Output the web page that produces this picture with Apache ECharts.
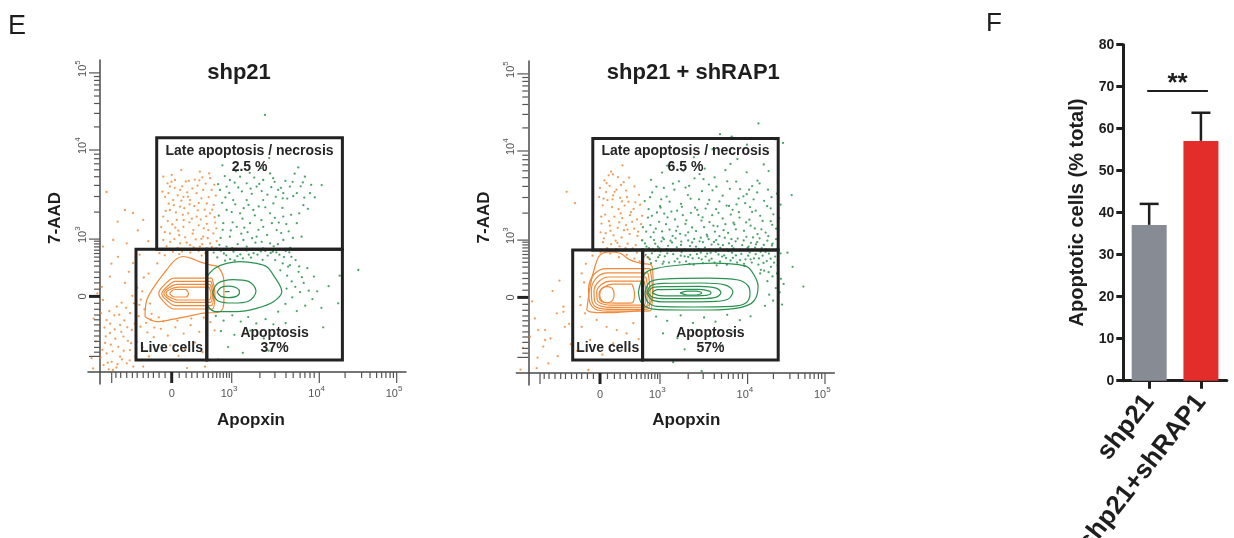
<!DOCTYPE html>
<html><head><meta charset="utf-8">
<script src="https://cdn.jsdelivr.net/npm/echarts@6/dist/echarts.min.js"></script>
<style>html,body{margin:0;padding:0;background:#fff}#c{width:1234px;height:538px}</style>
</head><body><div id="c"></div>
<script>
// ---------- Panel F data ----------
const CATS = ['shp21', 'shp21+shRAP1'];
const VALUES = [37.1, 57.1];
const SEM = [5.0, 6.7];
const BAR_COLORS = ['#878b93', '#e32d2b'];
const SIG = [[0, 69, 1]];          // [from category, y, to category]
const SIG_LABEL = '**';
const BAR_Y_TITLE = 'Apoptotic cells (% total)';

// ---------- Panel E : flow axes (display channel units) ----------
const FLOW_X_MAJOR = [23.9, 43.9, 73.1, 98.9];
const FLOW_Y_MAJOR = [25.2, 44.3, 74, 99.7];
const FLOW_LABELS = ['0', '10^3', '10^4', '10^5'];
const FLOW_X_LONG = [3.9];
const FLOW_Y_LONG = [5.2];
const FLOW_X_MINOR = [5.3,6.9,8.9,10.8,12.4,14.4,16.1,17.8,19.7,21.7,26.4,28.7,30.6,32.4,34.4,36.1,37.6,38.9,40,41.1,42.2,43.1,53.3,58.3,62,64.4,66.7,68.3,70,71.4,81.7,87.2,90,92.2,93.9,95.3,96.7,97.8];
const FLOW_Y_MINOR = [6.6,8.2,10.2,12,13.7,15.7,17.4,19,20.9,22.9,27.6,29.7,31.5,33.3,35.3,36.9,38.3,39.5,40.6,41.7,42.7,43.6,53.3,58.5,62.2,65.1,67.4,69.4,71.1,72.6,81.7,86.2,89.5,92,94,95.7,97.2,98.5];
const TITLES = ['shp21', 'shp21 + shRAP1'];
const X_NAME = 'Apopxin';
const Y_NAME = '7-AAD';

// gates [x1, y1, x2, y2]
const GATES_1 = [[18.9,40.9,80.8,78.1],[12,4,35.6,40.9],[35.6,4,80.8,40.9]];
const GATES_2 = [[21.5,41,83.3,78.2],[14.8,4.3,38.1,41],[38.1,4.3,83.3,41]];
const GATE_TEXT_1 = [['Late apoptosis / necrosis','2.5 %'],['Live cells'],['Apoptosis','37%']];
const GATE_TEXT_2 = [['Late apoptosis / necrosis','6.5 %'],['Live cells'],['Apoptosis','57%']];
const GATE_TEXT_SIDE = ['top','bottom','bottom'];

// events, plot 1
const ORANGE_1 = [[21.1,65.1],[23.9,65.7],[25,64],[23.3,61.8],[26.7,60.7],[21.7,58.4],[24.4,57.3],[27.8,58.4],[30,57.3],[32.2,59.6],[34.4,60.7],[33.3,66.8],[36.7,64.6],[37.2,60.7],[35.6,56.2],[26.7,55.1],[23.3,54],[21.1,51.8],[25.6,50.7],[29.4,52.9],[32.2,51.8],[36.7,52.9],[27.8,48.4],[31.1,47.3],[23.3,46.2],[34.4,45.1],[37.8,46.2],[26.7,42.9],[30,42.3],[33.3,41.8],[36.7,42.9],[21.1,44],
[22.5,62.9],[28.6,63.5],[30.8,61.2],[35.2,62.8],[29.1,59.9],[33.8,57.9],[22.9,56.1],[25.3,53.2],[28.1,54.6],[31.4,55.3],[34.9,54.1],[37.9,55.7],[24.1,49.2],[26.1,47.1],[29.8,49.9],[32.9,48.9],[35.6,49.4],[38.4,49.8],[22.2,41.9],[24.8,44.3],[28.4,44.9],[31.9,44.2],[34.1,42.6],[37.3,41.6],[27.1,67.3],[31.6,64.1],[20.4,48.3],[38.6,58.8],[25.9,58.9],[33.1,63.9],
[20.8,60.1],[22.8,59.6],[24.9,61.4],[27.4,61.9],[29.6,63.7],[32.5,62.1],[34.1,64.9],[36.2,58.3],[38.1,62.4],[21.9,53.7],[24.6,55.6],[27.1,57.1],[29.9,55.9],[32.6,53.9],[35.4,51.9],[37.4,54.1],[22.6,50.3],[25.1,48.1],[27.9,50.6],[30.6,51.1],[33.6,50.8],[36.1,47.3],[38.8,47.9],[23.4,43.4],[25.9,41.4],[28.9,43.1],[31.2,41.5],[33.8,44.4],[35.9,44.6],[38.9,43.6],[26.4,45.6],[30.9,46.1],[29.3,58.4],[23.8,63.4],[36.4,66.2],[32.9,56.3],[27.6,52.4],[34.6,47.9],[21.6,46.6],[38.2,51.6],
[2.2,60],[8.3,54],[11,53],[14.4,50.7],[4.4,44],[8.9,42.9],[1,41.8],[6,38.4],[11,36.3],[3.3,31.8],[8.3,29.7],[1,24],[5.6,21.8],[10,19.6],[2.2,17.3],[6.7,15.7],[10.6,14],[3.3,13],[7.8,11.8],[1.7,9.7],[6.1,8.4],[10,7.3],[2.2,6.2],[6.7,5.1],[3.9,3.4],[8.9,2.9],[11.1,1.8],[4.8,18.9],[8.1,17.2],[11.6,16.1],[1.5,14.8],[5.1,11.1],[9.3,10.4],[0.8,7.4],[4.2,6.9],[7.3,4.2],[9.9,3.9],[1.2,2.3],[5.5,1.5],[3.1,20.3],[7.2,23.1],[10.8,25.4],[12.4,28.1],[14.6,31.5],[9.6,33.4],[13.2,39.1],[16.1,43.6],[12.6,47.2],[5.9,50.1],[3.8,36.1],[0.6,28.4],[11.9,12.2],[2.9,0.9],
[-2.8,4.6],[-1.4,10.2],[-2.1,17.8],[0.3,19.6],[1.9,11.9],[3.6,9.1],[4.9,14.2],[6.4,19.1],[8.7,21.4],[9.1,14.9],[10.4,9.6],[11.8,5.2],[2.6,3.1],[5.8,2.6],[7.9,7.1],[0.2,4.9],[3.4,16.1],[7.1,13.4],[11.3,22.9],[-0.9,26.2],
[12.9,18.6],[14.8,20.9],[16.7,22.8],[13.6,24.1],[15.4,16.4],[17.2,19.4],[12.3,10.1],[18.1,14.8],[19.6,18.2],
[13.5,15.1],[15.8,13.2],[17.9,11.6],[20.3,14.4],[22.6,12.1],[25.1,14.9],[27.9,12.8],[30.2,15.6],[33.1,13.4],[14.2,8.3],[18.6,7.1],[23.4,8.9],[28.3,7.6],[31.7,9.8],[16.3,5.2],[26.2,5.4],[34.2,6.6],[13.1,22.4],[14.1,26.9],[16.2,32.8],[19.1,36.2],[21.6,38.9],[24.3,40.1],[27.3,40.2],[30.1,39.8],[32.9,40.4],[35.1,39.6],[19.8,39.6],[26.4,39.3],[29.2,40.6],[33.9,38.8],[16.9,17.5],[21.1,16.9],[25.8,17.1],[30.4,17.8],[34.6,18.1],[36.8,16.6],[38.2,13.9],
[14.4,1.8],[35,1.8],[29,1.3],[-2.3,1.2],[4.3,0.7]];
const GREEN_1 = [[40,60.7],[42.2,61.8],[43.3,64],[46.7,65.1],[48.9,62.9],[52.2,61.8],[54.4,64],[56.7,66.2],[59.4,60.7],[61.1,59.6],[63.3,61.8],[65.6,59.6],[70,59.6],[68.3,65.1],[44.4,57.3],[48.9,57.3],[54.4,57.3],[57.8,56.2],[42.2,54],[46.7,52.9],[51.1,54],[56.7,52.9],[61.1,51.8],[65.6,49.6],[41.1,49.6],[45.6,48.4],[50,49.6],[54.4,48.4],[58.9,47.3],[43.3,45.1],[47.8,44],[52.2,45.1],[56.7,42.9],[61.1,44],[42.2,41.8],[48.9,41.8],[54.4,41.2],
[44.9,63.1],[47.3,60.2],[50.6,59.4],[53.1,62.7],[55.8,59.1],[58.2,63.4],[60.3,61.4],[62.4,57.8],[49.5,55.7],[52.9,55.2],[45.1,55.9],[41.8,58.2],[58.6,58.4],[64.2,63.4],[66.9,61.9],[51.4,64.8],[47.5,51.1],[53.8,50.6],[59.6,49.8],[43.6,47.2],[49.2,46.6],[55.7,45.7],[62.9,46.9],[40.2,44.7],[45.9,42.6],[51.8,43.1],[57.9,41.9],[39.6,52.1],[60.8,54.7],[67.8,55.6],[71.6,58.2],[63.7,52.4],
[39.4,62.6],[41.6,65.3],[45.3,66.9],[49.9,66.4],[53.6,67.9],[57.7,64.6],[61.8,63.7],[64.9,66.1],[67.6,63.2],[70.4,62.4],[43.1,59.7],[46.1,61.5],[50.2,61.1],[53.9,60.3],[57.1,61.6],[60.9,57.9],[64.4,58.6],[68.1,58.1],[40.7,56.4],[43.9,53.3],[47.9,54.6],[51.6,52.2],[55.1,54.9],[58.3,51.4],[62.1,49.3],[66.4,52.9],[69.3,54.4],[40.9,47.4],[44.2,49.9],[48.1,48.1],[52.8,47.4],[57.3,49.6],[60.4,46.3],[64.3,44.7],[39.8,42.4],[44.1,41.3],[47.1,46.1],[50.7,44.6],[53.9,43.4],[59.3,42.6],[63.4,41.4],[67.2,45.1],
[55,85.7],[56.4,71.3],[40.8,68.9],[73.9,62.3],[66.1,68.2],
[37.9,39.8],[40.3,40.4],[42.1,38.9],[44.5,40.1],[46.8,39.2],[48.9,40.5],[51.2,39.6],[53.6,40.2],[55.9,38.8],[57.6,40.1],[59.8,39.1],[61.9,40.3],[63.8,38.4],[39.1,38.2],[43.4,37.6],[47.6,37.9],[50.3,38.1],[54.2,37.4],[58.4,37.3],[60.9,36.2],[62.7,35.1],[41.3,39.5],[45.8,38.6],[52.5,39.1],[56.9,39.7],
[38.7,41.2],[41.7,37.1],[44.9,37.2],[49.6,39.1],[52.9,40.8],[55.1,40.3],[58.8,39.9],[61.3,38.3],[63.1,39.9],[65.2,37.3],[66.4,35.2],[67.3,31.6],
[60.1,33.9],[62.4,32.1],[63.9,30.2],[65.1,28.4],[66.7,26.6],[62.2,27.8],[64.1,24.9],[61.8,22.7],[67.9,29.7],[69.6,27.1],[70.8,24.3],[68.4,22.1],[65.6,20.3],[72.4,26.9],[71.3,31.8],[63.3,35.6],[66.2,33.4],[69.1,34.6],[59.4,20.1],[73.8,21.4],
[38.6,18.7],[41.2,17.1],[44.1,18.9],[46.9,16.8],[49.4,18.3],[52.1,16.2],[55.2,17.6],[57.8,15.9],[40.3,13.6],[44.8,12.4],[50.1,13.8],[54.6,11.2],[59.3,12.7],[42.7,8.3],[47.6,6.4],[56.2,7.1],[39.4,4.1],[61.9,16.3],
[86.1,34],[79.4,22.9],[79.9,32.1],[76.2,28.6],[74.4,14.9]];

// events, plot 2
const ORANGE_2 = [[27.6,67.1],[29.9,65.3],[25.4,64.2],[31.8,63.6],[27.1,62.4],[29.4,61.1],[25.9,60.3],[32.6,60.8],[35.4,62.2],[28.3,59.2],[30.6,58.4],[26.4,57.6],[33.4,57.1],[24.8,55.9],[27.9,55.3],[30.1,54.6],[32.1,55.8],[35.1,54.7],[37.3,56.1],[25.6,52.8],[28.7,52.1],[31.3,51.6],[33.9,52.6],[36.2,51.2],[24.4,49.8],[27.2,49.1],[29.8,48.4],[32.6,49.3],[35.3,48.1],[37.6,49.6],[25.8,46.6],[28.4,45.9],[31.1,45.2],[33.8,46.3],[36.4,45.7],[24.9,43.6],[27.6,42.9],[30.4,42.2],[33.1,43.1],[35.8,42.6],[26.3,41.6],[29.1,44.1],[31.9,47.6],[34.6,50.4],[28.1,57.9],[30.9,62.7],[26.8,65.9],[33.6,65.1],[23.6,58.7],[36.9,59.4],[38.1,44.3],[31.4,69.2],[29.3,41.3],[34.8,41.5],[24.1,46.9],
[26.1,63.3],[28.8,60.4],[31.2,57.2],[24.3,52.1],[27.4,47.4],[30.3,50.2],[33.1,47.8],[25.2,44.9],[29.7,43.4],[32.4,41.6],[34.2,53.6],[36.6,47.1],[23.9,61.7],[28.2,66.2],[32.9,58.6],[35.7,56.9],[26.9,50.6],[30.8,53.2],[25.1,58.1],[37.9,52.4],
[12.8,60.4],[15.6,56.6],[9.5,19.9],[11.7,22.1],[2.2,18.2],[5,8.8],[2.8,1.6],[20,1],[5.6,14.3],[12.2,15.4],[3.3,14.3],[5.6,11],[11.7,20.4],[7.4,11.5],[1.3,23.9],[9.8,5.6],[13.6,16.4],[0.6,12.1],[3.1,5.1],[-1.8,8.4],[-2.6,1.1],[8.1,27.3],[10.4,30.8],[6.7,3.2],[14.2,9.6],
[17.8,33.2],[17.2,25.4],[18.9,19.9],[17.8,15.4],[22.8,17.7],[26.1,15.4],[29.5,14.3],[32.8,13.2],[35,16.6],[20.6,11],[28.3,9.9],[24.1,40.2],[27.3,39.8],[30.2,38.6],[32.8,39.4],[35.4,38.1],[37.1,37.2],[29.1,40.6],[33.9,40.8],[36.2,40.1],[38.6,38.9],[40.2,38.3],[18.6,30.2],[19.2,36.4],[21.4,39.1],[17.4,22.6],[16.3,7.4],[24.7,6.1],[33.6,7.9],[36.8,11.3]];
const GREEN_2 = [[67.8,78.8],[76.7,83.2],[61.4,74.6],[72.9,76.1],[79.8,73.4],[55.2,71.9],[48.6,73.2],[82.3,77.9],[69.7,71.3],[63.9,79.6],
[40.9,64.4],[44.6,66.8],[48.2,63.1],[51.7,67.4],[55.4,64.9],[58.8,68.1],[62.1,65.2],[65.7,67.6],[69.3,63.8],[72.8,66.9],[76.4,64.1],[80.1,67.3],[83.2,63.6],[46.3,69.1],[53.6,62.4],[60.2,62.8],[67.4,69.7],[74.6,62.3],[78.5,69.5],[42.7,62.1],[57.1,66.3],
[38.8,57.3],[41.3,60.2],[43.9,55.6],[46.1,58.8],[48.7,61.1],[50.9,56.4],[53.2,59.3],[55.6,55.1],[57.9,60.6],[60.3,57.7],[62.6,54.6],[64.8,59.1],[67.2,61.4],[69.4,56.2],[71.7,58.9],[73.9,55.3],[76.3,60.2],[78.6,57.4],[80.8,54.9],[82.9,59.8],[40.1,54.6],[45.2,61.7],[49.6,54.1],[52.4,61.8],[56.9,57.9],[59.1,54.8],[61.4,60.9],[66.1,55.8],[70.6,61.3],[75.1,57.9],[79.9,61.1],[44.3,57.9],[63.7,57.2],[68.1,54.4],[72.8,59.6],
[39.3,47.1],[41.2,52.4],[42.5,48.1],[44.1,55.1],[45.9,49.6],[47.7,53.8],[49.3,47.4],[51.2,55.4],[52.7,50.9],[54.6,48.5],[56.3,54.4],[58.1,51.9],[59.8,56.3],[61.7,49.1],[63.4,53.4],[65.1,47.6],[66.9,55.7],[68.7,49.5],[70.4,51.8],[72.3,56.6],[74.1,49.1],[75.8,54.1],[77.7,47.9],[79.6,55.6],[81.3,49.4],[83.6,51.6],[40.6,58.6],[47.1,57.1],[54.1,58.1],[62.7,62.1],[70.1,58.2],[77.1,63.2],[84.1,56.1],[50.2,63.9],[58.4,64.6],[66.3,63.9],[73.6,61.1],[81.1,58.6],
[38.2,48.6],[39.9,51.8],[41.8,46.9],[43.6,50.4],[45.3,53.1],[47.1,47.8],[48.9,51.2],[50.6,46.4],[52.4,49.7],[54.2,53.4],[55.9,47.3],[57.7,50.8],[59.5,46.1],[61.3,52.6],[63.1,48.9],[64.8,51.5],[66.6,46.7],[68.4,50.1],[70.2,53.6],[71.9,47.4],[73.7,51.1],[75.5,48.2],[77.3,52.4],[79.1,46.8],[80.8,50.6],[82.6,48.1],[40.7,49.3],[44.6,47.2],[46.4,51.9],[49.8,48.8],[53.3,46.9],[56.7,52.7],[58.6,48.6],[62.2,47.1],[65.7,49.6],[69.2,47.9],[72.6,50.2],[76.4,46.3],[78.1,50.7],[81.7,52.9],[42.9,53.5],[60.4,50.3],[67.5,52.8],[74.6,53.7],[51.5,52.6],
[37.9,44.2],[39.4,42.1],[40.8,45.3],[42.3,43.1],[43.7,41.6],[45.2,44.6],[46.6,42.4],[48.1,45.7],[49.5,41.9],[51,43.8],[52.4,45.9],[53.9,42.3],[55.3,44.7],[56.8,41.4],[58.2,43.6],[59.7,45.5],[61.1,42.8],[62.6,44.3],[64,41.7],[65.5,45.1],[66.9,43.2],[68.4,41.5],[69.8,44.8],[71.3,42.6],[72.7,45.4],[74.2,43.4],[75.6,41.8],[77.1,44.9],[78.5,42.7],[80,45.6],[81.4,43.1],[82.9,41.4],[41.5,41.2],[44.4,43.9],[47.4,44.1],[50.2,41.1],[54.6,43.5],[57.5,45.1],[60.4,41.2],[63.3,42.9],[67.7,44.6],[70.6,41.1],[73.4,42.1],[76.3,43.6],[79.2,41.3],
[38.9,43.2],[40.2,41.6],[41.9,44.3],[43.2,42.1],[44.8,45.1],[46.1,41.3],[47.9,43.5],[49.1,44.9],[50.9,42.7],[52.1,41.2],[53.3,44.2],[55.9,42.1],[57.1,43.9],[58.9,41.8],[60.1,44.6],[61.9,43.7],[63.7,45.6],[64.9,42.6],[66.2,41.2],[67.9,42.3],[69.1,43.9],[71.8,44.2],[73.1,41.7],[74.9,45.2],[75.9,42.9],[77.8,41.6],[79.7,44.1],[81.2,42.5],[82.6,44.6],
[38.4,40.2],[39.8,38.6],[41.2,39.9],[42.6,37.4],[44.1,40.5],[45.5,38.9],[46.9,36.8],[48.3,39.6],[49.7,38.1],[51.1,40.3],[52.6,37.2],[54,39.4],[55.4,40.7],[56.8,38.3],[58.2,36.6],[59.6,39.8],[61.1,38.1],[62.5,40.4],[63.9,37.1],[65.3,39.2],[66.7,40.6],[68.2,38.4],[69.6,36.8],[71,39.7],[72.4,37.9],[73.8,40.2],[75.2,38.2],[76.7,36.1],[78.1,39.1],[79.5,37.3],[80.9,35.4],[82.3,38.8],[40.5,37.9],[43.3,38.6],[47.6,40.7],[50.4,36.9],[53.3,38.7],[57.5,40.1],[60.3,37.5],[64.6,38.8],[67.4,37.5],[70.3,40.8],[74.5,36.8],[77.4,40.4],[80.2,39.8],[44.8,36.4],[55.1,36.1],[62.8,35.9],[72.1,35.6],[78.6,34.1],[81.4,32.2],[83.1,35.9],[79.7,30.6],[82.5,28.3],[80.3,26.1],[84.2,31.4],
[39.1,39.4],[40.9,36.6],[42.1,40.7],[43.8,39.3],[45.1,37.1],[46.3,39.9],[48.8,37.2],[50.8,39.1],[52.1,38.9],[53.7,36.4],[54.8,38.2],[56.2,39.6],[57.8,37.9],[59.1,38.8],[60.8,40.1],[62.1,36.8],[63.4,39.5],[65.9,38.3],[66.2,36.1],[67.9,40.1],[69.2,39.2],[70.6,37.6],[71.9,36.4],[73.3,39.1],[74.1,37.9],[75.8,39.6],[76.9,38.2],[78.4,36.7],[79.1,40.4],[80.8,38.1],[81.9,36.8],[83.2,37.6],[84.1,39.9],[77.5,34.4],[80.1,33.6],[82.9,33.2],
[77.3,33.2],[81.6,24.1],[83.8,26.9],[85.1,29.7],[78.9,22.4],[84.6,22.8],[91.7,28.8],[87.8,59.3],[84.9,76.7],[88.1,35.4],[86.4,40.1],
[42.6,18.8],[46.3,17.4],[50.8,19.2],[54.9,16.7],[58.6,18.5],[62.4,17.1],[66.3,19.4],[70.5,17.6],[74.1,18.9],[44.9,13.2],[49.7,11.6],[56.2,14.4],[61.8,12.1],[68.4,13.8],[52.1,7.9],[64.7,9.2],[48.3,3.6],[57.8,0.6]];

// density contours (display units)
const CONTOUR_O1 = [
 [[15,18.4],[15.6,24],[18.9,29.7],[22.2,34],[25,37.3],[27.8,38.5],[30.7,37.8],[33.3,36.7],[36.7,35.7],[39.3,35.1],[41.3,30],[41.3,24],[40,20.1],[34.4,19.6],[30,18.7],[24.4,17.6],[18.9,16.8],[15,18.4]],
 [[37.3,31.3],[24.7,31.3],[21.1,28.7],[19.6,26.2],[21.1,23.6],[24.7,21],[37.3,21],[38.3,26.2],[37.3,31.3]],
 [[37,30.2],[25.2,30.2],[21.9,28],[20.6,26.2],[21.9,24.2],[25.2,22.1],[37,22.1],[37.9,26.2],[37,30.2]],
 [[36.7,29.2],[25.6,29.2],[22.6,27.8],[21.3,26.2],[22.6,24.6],[25.6,23.2],[36.7,23.2],[37.5,26.2],[36.7,29.2]],
 [[36.3,28.3],[26,28.3],[23.1,27.4],[22,26.2],[23.1,25],[26,24],[36.3,24],[37,26.2],[36.3,28.3]],
 [[28.7,27.5],[25,27.5],[23.3,26.2],[25,25],[28.7,25],[29.5,26.2],[28.7,27.5]]
];
const CONTOUR_G1 = [
 [[35.6,31.8],[38.3,34.6],[42.2,36.2],[46.7,36.8],[52.2,36.2],[55.6,35.1],[57.8,32.3],[60.6,26.8],[57.8,23.4],[52.2,21.2],[45.6,20.1],[38.9,20.1],[36.1,21.8],[35.3,26.2],[35.6,31.8]],
 [[37.5,26.5],[39.3,29.6],[44.4,30.8],[49.5,30.2],[52,27],[49.5,23.6],[44.4,23],[39.5,23.6],[37.5,26.5]],
 [[39,26.6],[40.4,28.2],[43,28.6],[45.6,28],[46.5,26.6],[45.5,25.2],[42.8,24.8],[40.3,25.2],[39,26.6]],
 [[41.6,26.8],[43.2,26.8]]
];
const CONTOUR_O2 = [
 [[19.5,21],[20.6,28.8],[22.2,35.4],[23.9,39.3],[27.2,40.4],[30.6,39.9],[33.9,37.7],[37.2,36.6],[41.2,35.8],[41.6,30],[41.2,24.3],[37.2,21],[31.8,20.4],[25,20.1],[20.6,20.4],[19.5,21]],
 [[40.6,34.8],[26,34.8],[22,33],[20.1,28],[20.5,23.5],[23,21],[28,20.6],[40.6,20.7],[41.4,27.7],[40.6,34.8]],
 [[39.9,33.4],[26.5,33.4],[22.8,31.8],[21,27.6],[21.3,23.6],[23.6,21.6],[28.3,21.2],[39.9,21.3],[40.6,27.4],[39.9,33.4]],
 [[39.2,32],[27,32],[23.6,30.6],[21.9,27.3],[22.1,24],[24.2,22.3],[28.6,21.9],[39.2,22],[39.9,27],[39.2,32]],
 [[38.6,30.6],[27.5,30.6],[24.4,29.5],[22.8,27],[23,24.4],[24.8,23],[28.9,22.6],[38.6,22.7],[39.3,26.6],[38.6,30.6]],
 [[34.6,29.6],[28.1,29.6],[25.2,28.6],[23.6,26.6],[23.8,24.6],[25.4,23.5],[29.1,23.3],[34.6,23.4],[35.4,26.5],[34.6,29.6]],
 [[26.2,28.9],[24.5,28.2],[23.8,26.2],[24.5,24.1],[26.2,23.4],[28,24.1],[28.6,26.2],[28,28.2],[26.2,28.9]]
];
const CONTOUR_G2 = [
 [[36.7,27],[38.9,33.2],[42.8,34.9],[50.6,36],[61.7,36.6],[72.2,35.7],[74.6,33.7],[76.6,29],[75.2,24],[70.6,21.8],[60.5,21],[50.6,21],[41.7,21.3],[37.8,23.2],[36.7,27]],
 [[38.9,26.7],[40.5,30.3],[45,31.3],[60,31.6],[70,31],[73.3,29],[73.9,26.5],[72.5,23.3],[68,22.2],[55,22],[43,22.2],[39.7,23.8],[38.9,26.7]],
 [[39.5,26.8],[41,29.2],[45,29.9],[58,30],[65.5,29.4],[68.2,27.2],[66.5,24.6],[60,23.8],[46,23.7],[41.3,24.3],[39.5,26.8]],
 [[39.9,26.8],[41.5,28.5],[46,28.8],[57,28.9],[62.6,28.3],[64.2,26.8],[62.7,25.3],[57,24.8],[46,24.8],[41.5,25.2],[39.9,26.8]],
 [[41.2,26.8],[43,27.8],[50,27.9],[57,27.9],[60.4,27.3],[60.9,26.6],[59.4,25.9],[52,25.7],[44,25.8],[41.2,26.8]],
 [[50.6,26.7],[53,27.3],[56,27.3],[57.8,26.7],[56,26],[53,26],[50.6,26.7]]
];

// ---------- rendering ----------
const FONT = '"Liberation Sans", Arial, Helvetica, sans-serif';
const ORANGE = '#f0832f', GREEN = '#1f8c45';
const ORANGE_LINE = '#f08a3a', GREEN_LINE = '#2a9250';
const INK = '#1e1e1e';

const RICH = {
  n: {fontSize: 11, fontFamily: FONT, fill: '#555', lineHeight: 15, verticalAlign: 'bottom'},
  e: {fontSize: 8, fontFamily: FONT, fill: '#555', lineHeight: 8, verticalAlign: 'top'}
};
function supText(s) {
  const m = s.split('^');
  return m.length > 1 ? '{n|' + m[0] + '}{e|' + m[1] + '}' : '{n|' + s + '}';
}

function axisDecor(g) {
  const data = [];
  FLOW_X_MINOR.forEach(v => data.push([v, 0, 0, -1]));
  FLOW_X_LONG.forEach(v => data.push([v, 1, 0, -1]));
  FLOW_X_MAJOR.forEach((v, i) => data.push([v, 2, 0, i]));
  FLOW_Y_MINOR.forEach(v => data.push([v, 0, 1, -1]));
  FLOW_Y_LONG.forEach(v => data.push([v, 1, 1, -1]));
  FLOW_Y_MAJOR.forEach((v, i) => data.push([v, 2, 1, i]));
  return {
    type: 'custom', xAxisIndex: g, yAxisIndex: g, clip: false, silent: true, z: 4,
    data: data,
    renderItem: function (params, api) {
      const v = api.value(0), kind = api.value(1), ax = api.value(2), li = api.value(3);
      const len = kind === 0 ? 6 : 11;
      const isZero = kind === 2 && li === 0;
      const lw = isZero ? 3 : 1.2, col = isZero ? '#222' : '#555';
      const ch = [];
      if (ax === 0) {
        const p = api.coord([v, 0]);
        ch.push({type: 'line', shape: {x1: p[0], y1: p[1], x2: p[0], y2: p[1] + len}, style: {stroke: col, lineWidth: lw}});
        if (kind === 2) {
          const lab = FLOW_LABELS[li], sup = lab.indexOf('^') >= 0;
          ch.push({type: 'text', x: sup ? p[0] - 11 : p[0], y: p[1] + 20,
            style: {text: supText(lab), rich: RICH, fill: '#555', align: sup ? 'left' : 'center', textAlign: sup ? 'left' : 'center', verticalAlign: 'middle', textVerticalAlign: 'middle'}});
        }
      } else {
        const p = api.coord([0, v]);
        ch.push({type: 'line', shape: {x1: p[0], y1: p[1], x2: p[0] - len, y2: p[1]}, style: {stroke: col, lineWidth: lw}});
        if (kind === 2) {
          const lab = FLOW_LABELS[li], sup = lab.indexOf('^') >= 0;
          ch.push({type: 'text', x: p[0] - 19, y: sup ? p[1] + 4 : p[1], rotation: Math.PI / 2,
            style: {text: supText(lab), rich: RICH, fill: '#555', align: sup ? 'left' : 'center', textAlign: sup ? 'left' : 'center', verticalAlign: 'middle', textVerticalAlign: 'middle'}});
        }
      }
      return {type: 'group', children: ch};
    }
  };
}

function gateSeries(g, gates, texts) {
  return {
    type: 'custom', xAxisIndex: g, yAxisIndex: g, clip: false, silent: true, z: 8,
    data: gates.map((q, i) => [q[0], q[1], q[2], q[3], i]),
    renderItem: function (params, api) {
      const i = api.value(4);
      const p1 = api.coord([api.value(0), api.value(3)]);
      const p2 = api.coord([api.value(2), api.value(1)]);
      const ch = [{type: 'rect', shape: {x: p1[0], y: p1[1], width: p2[0] - p1[0], height: p2[1] - p1[1]},
        style: {fill: 'none', stroke: '#222', lineWidth: 3}}];
      const lines = texts[i], cx = (p1[0] + p2[0]) / 2;
      lines.forEach((t, k) => {
        const y = GATE_TEXT_SIDE[i] === 'top' ? p1[1] + 13 + 16 * k : p2[1] - 12 - 15 * (lines.length - 1 - k);
        ch.push({type: 'text', x: cx, y: y, style: {text: t, fill: '#262626', font: 'bold 14px ' + FONT,
          align: 'center', textAlign: 'center', verticalAlign: 'middle', textVerticalAlign: 'middle'}});
      });
      return {type: 'group', children: ch};
    }
  };
}

function contourSeries(g, list, color) {
  return list.map(c => ({
    type: 'line', xAxisIndex: g, yAxisIndex: g, data: c, smooth: 0.35, symbol: 'none', showSymbol: false,
    lineStyle: {color: color, width: 1.2}, silent: true, z: 5, animation: false
  }));
}
function dots(g, pts, color) {
  return {type: 'scatter', xAxisIndex: g, yAxisIndex: g, data: pts, symbol: 'circle', symbolSize: 2.3,
    itemStyle: {color: color}, silent: true, z: 3};
}
function flowX(g) {
  return {type: 'value', gridIndex: g, min: -4, max: 102,
    axisLine: {show: true, onZero: true, lineStyle: {color: '#4a4a4a', width: 1.5}},
    axisTick: {show: false}, axisLabel: {show: false}, splitLine: {show: false}};
}
function flowY(g) {
  return {type: 'value', gridIndex: g, min: -4, max: 104,
    axisLine: {show: true, onZero: true, lineStyle: {color: '#4a4a4a', width: 1.5}},
    axisTick: {show: false}, axisLabel: {show: false}, splitLine: {show: false}};
}
function txt(t, x, y, size, weight, align, rot) {
  return {type: 'text', x: x, y: y, rotation: rot || 0, silent: true,
    style: {text: t, font: weight + ' ' + size + 'px ' + FONT, fill: INK,
      align: align, textAlign: align, verticalAlign: 'middle', textVerticalAlign: 'middle'}};
}

const series = [
  dots(0, ORANGE_1, ORANGE), dots(0, GREEN_1, GREEN),
  ...contourSeries(0, CONTOUR_O1, ORANGE_LINE), ...contourSeries(0, CONTOUR_G1, GREEN_LINE),
  axisDecor(0), gateSeries(0, GATES_1, GATE_TEXT_1),
  dots(1, ORANGE_2, ORANGE), dots(1, GREEN_2, GREEN),
  ...contourSeries(1, CONTOUR_O2, ORANGE_LINE), ...contourSeries(1, CONTOUR_G2, GREEN_LINE),
  axisDecor(1), gateSeries(1, GATES_2, GATE_TEXT_2),
  {type: 'bar', xAxisIndex: 2, yAxisIndex: 2, barWidth: 35, silent: true,
    data: VALUES.map((v, i) => ({value: v, itemStyle: {color: BAR_COLORS[i]}}))},
  {type: 'custom', xAxisIndex: 2, yAxisIndex: 2, clip: false, silent: true, z: 6,
    data: VALUES.map((v, i) => [i, v, SEM[i]]),
    renderItem: function (params, api) {
      const b = api.coord([api.value(0), api.value(1)]);
      const t = api.coord([api.value(0), api.value(1) + api.value(2)]);
      return {type: 'group', children: [
        {type: 'line', shape: {x1: b[0], y1: b[1], x2: b[0], y2: t[1]}, style: {stroke: INK, lineWidth: 2.5}},
        {type: 'line', shape: {x1: b[0] - 9.5, y1: t[1], x2: b[0] + 9.5, y2: t[1]}, style: {stroke: INK, lineWidth: 2.5}}
      ]};
    }},
  {type: 'custom', xAxisIndex: 2, yAxisIndex: 2, clip: false, silent: true, z: 6,
    data: SIG,
    renderItem: function (params, api) {
      const a = api.coord([api.value(0), api.value(1)]);
      const b = api.coord([api.value(2), api.value(1)]);
      const x1 = a[0] - 2, x2 = b[0] + 7;
      return {type: 'group', children: [
        {type: 'line', shape: {x1: x1, y1: a[1], x2: x2, y2: a[1]}, style: {stroke: INK, lineWidth: 2}},
        {type: 'text', x: (x1 + x2) / 2, y: a[1] - 7, style: {text: SIG_LABEL, font: 'bold 26px ' + FONT, fill: INK,
          align: 'center', textAlign: 'center', verticalAlign: 'middle', textVerticalAlign: 'middle'}}
      ]};
    }}
];

const option = {
  animation: false,
  backgroundColor: '#fff',
  textStyle: {fontFamily: FONT},
  grid: [
    {left: 88, top: 60, width: 318, height: 324, outerBoundsMode: 'none', containLabel: false},
    {left: 516.3, top: 61, width: 318, height: 324, outerBoundsMode: 'none', containLabel: false},
    {left: 1123.3, top: 44.7, width: 103.5, height: 336, outerBoundsMode: 'none', containLabel: false}
  ],
  xAxis: [flowX(0), flowX(1),
    {type: 'category', gridIndex: 2, data: CATS,
      axisLine: {show: true, lineStyle: {color: INK, width: 3}},
      axisTick: {show: true, alignWithLabel: true, length: 8, lineStyle: {color: INK, width: 3}},
      axisLabel: {rotate: 52, interval: 0, margin: 17, fontSize: 26, fontWeight: 'bold', color: INK, fontFamily: FONT},
      splitLine: {show: false}}],
  yAxis: [flowY(0), flowY(1),
    {type: 'value', gridIndex: 2, min: 0, max: 80, interval: 10,
      axisLine: {show: true, lineStyle: {color: INK, width: 3}},
      axisTick: {show: true, length: 7, lineStyle: {color: INK, width: 3}},
      axisLabel: {margin: 9, fontSize: 14, fontWeight: 'bold', color: INK, fontFamily: FONT},
      splitLine: {show: false}}],
  graphic: [
    txt('E', 8, 26.5, 27, 'normal', 'left'),
    txt('F', 986, 24, 26, 'normal', 'left'),
    txt(TITLES[0], 239, 72.5, 22, 'bold', 'center'),
    txt(TITLES[1], 693.3, 72.5, 22, 'bold', 'center'),
    txt(X_NAME, 251, 420.5, 17, 'bold', 'center'),
    txt(X_NAME, 686.3, 420.5, 17, 'bold', 'center'),
    txt(Y_NAME, 55, 218, 17, 'bold', 'center', Math.PI / 2),
    txt(Y_NAME, 484.5, 217.5, 17, 'bold', 'center', Math.PI / 2),
    txt(BAR_Y_TITLE, 1077, 212.5, 20, 'bold', 'center', Math.PI / 2)
  ],
  series: series
};
const chart = echarts.init(document.getElementById('c'), null, {renderer: 'canvas'});
chart.setOption(option);
</script></body></html>
